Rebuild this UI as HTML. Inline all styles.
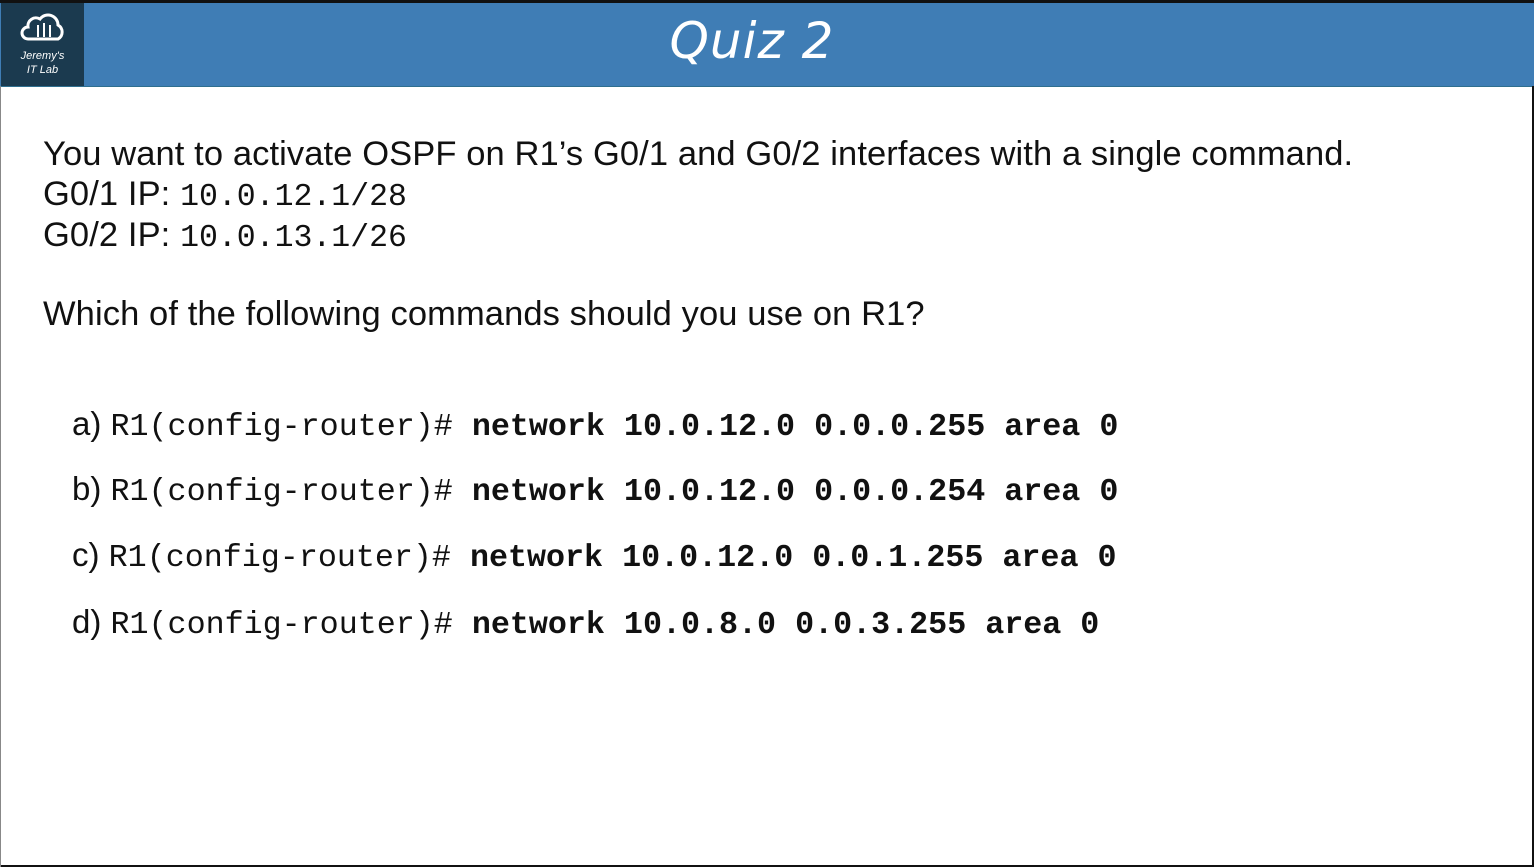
<!DOCTYPE html>
<html><head><meta charset="utf-8"><style>
body{margin:0;width:1534px;height:867px;background:#fff;position:relative;overflow:hidden;font-family:"Liberation Sans",sans-serif;color:#111}
.top{position:absolute;left:0;top:0;width:1534px;height:3px;background:#111}
.hdr{position:absolute;left:0;top:3px;width:1534px;height:83px;background:#3f7db5;border-bottom:1px solid #2f6f8f}
.logo{position:absolute;left:1px;top:3px;width:83px;height:83px;background:#1b3a4f;color:#fff;text-align:center;font-family:"Liberation Sans",sans-serif;font-style:italic;font-size:11px;line-height:14px}
.title{position:absolute;left:0;width:1534px;top:12px;text-align:center;color:#fff;font-size:50px;font-style:italic;font-family:"DejaVu Sans",sans-serif;letter-spacing:1px;text-indent:-30px}
.t{position:absolute;left:43px;font-size:34.5px;letter-spacing:0.1px;white-space:nowrap}
.m{font-family:"Liberation Mono",monospace;font-size:31.5px;letter-spacing:0}
.q{position:absolute;left:72px;font-size:33px;white-space:nowrap}
.q .m{font-size:31.7px}
.rb{position:absolute;right:0;top:86px;width:2px;height:781px;background:#111}
.bb{position:absolute;left:0;bottom:0;width:1534px;height:2px;background:#111}
.lb{position:absolute;left:0;top:86px;width:1px;height:781px;background:#888}
</style></head><body>
<div class="top"></div>
<div class="hdr"></div>
<div class="logo">
<svg width="50" height="30" viewBox="0 0 50 30" style="margin-top:10px"><path d="M10 26 H40 A8 8 0 0 0 40 12 A10 10 0 0 0 22 6 A8 8 0 0 0 10 14 A6 6 0 0 0 10 26 Z" fill="none" stroke="#fff" stroke-width="3"/><path d="M20 12v12M26 10v14M32 12v12" stroke="#fff" stroke-width="2"/></svg>
<div style="margin-top:2px">Jeremy's</div><div>IT Lab</div></div>
<div class="title">Quiz 2</div>
<div class="t" style="top:135px">You want to activate OSPF on R1’s G0/1 and G0/2 interfaces with a single command.</div>
<div class="t" style="top:175px">G0/1 IP: <span class="m">10.0.12.1/28</span></div>
<div class="t" style="top:216px">G0/2 IP: <span class="m">10.0.13.1/26</span></div>
<div class="t" style="top:295px">Which of the following commands should you use on R1?</div>
<div class="q" style="top:405px">a) <span class="m">R1(config-router)# <b>network 10.0.12.0 0.0.0.255 area 0</b></span></div>
<div class="q" style="top:470px">b) <span class="m">R1(config-router)# <b>network 10.0.12.0 0.0.0.254 area 0</b></span></div>
<div class="q" style="top:536px">c) <span class="m">R1(config-router)# <b>network 10.0.12.0 0.0.1.255 area 0</b></span></div>
<div class="q" style="top:603px">d) <span class="m">R1(config-router)# <b>network 10.0.8.0 0.0.3.255 area 0</b></span></div>
<div class="rb"></div><div class="bb"></div><div class="lb"></div>
</body></html>
